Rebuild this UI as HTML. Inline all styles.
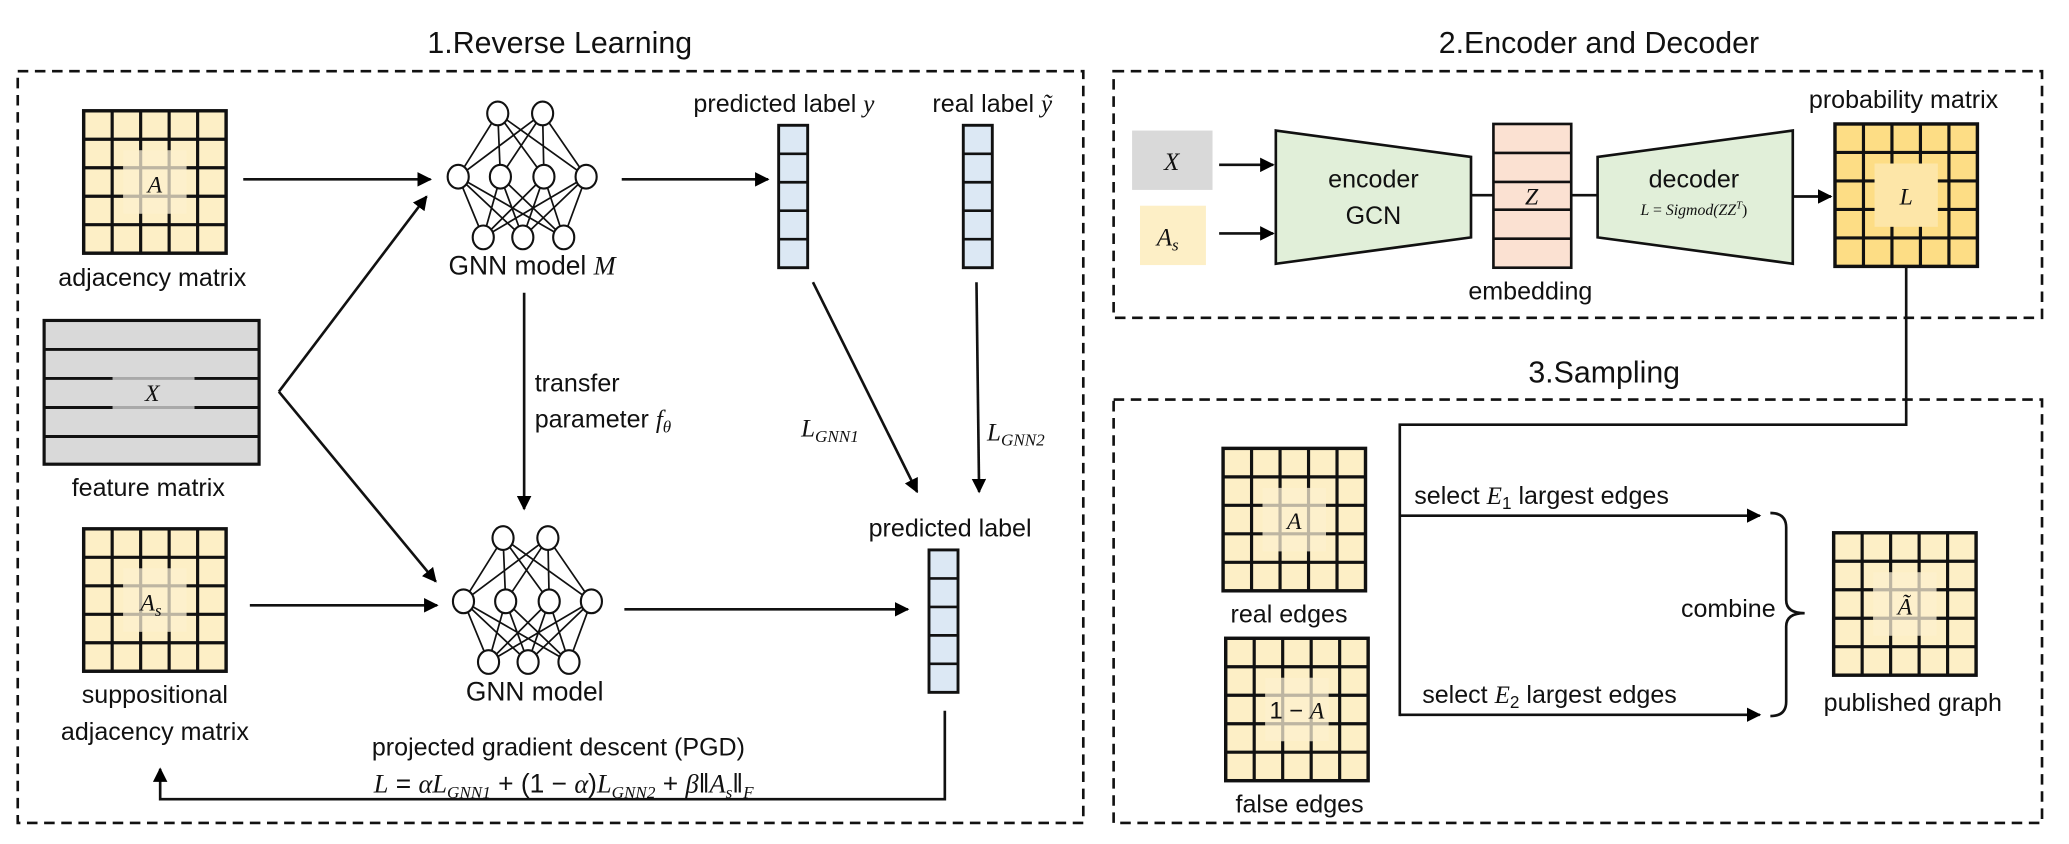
<!DOCTYPE html>
<html><head><meta charset="utf-8"><style>
html,body{margin:0;padding:0;background:#fff}
svg{display:block}
text{font-family:"Liberation Sans","DejaVu Sans",sans-serif;fill:#111}
.m{font-family:"Liberation Serif",serif;font-style:italic}
</style></head><body>
<svg width="2069" height="844" viewBox="0 0 1568 640" xmlns="http://www.w3.org/2000/svg">
<defs>
<marker id="ah" viewBox="0 0 10 10" refX="9" refY="5" markerWidth="5.5" markerHeight="5.5" orient="auto" markerUnits="strokeWidth"><path d="M0,0L10,5L0,10z" fill="#000"/></marker>
<symbol id="mat" viewBox="0 0 108 108" width="108" height="108" overflow="visible">
<rect x="0" y="0" width="108" height="108" fill="#fdefc6"/>
<g stroke="#111" stroke-width="2.4">
<line x1="21.6" y1="0" x2="21.6" y2="108"/><line x1="43.2" y1="0" x2="43.2" y2="108"/><line x1="64.8" y1="0" x2="64.8" y2="108"/><line x1="86.4" y1="0" x2="86.4" y2="108"/>
<line y1="21.6" x1="0" y2="21.6" x2="108"/><line y1="43.2" x1="0" y2="43.2" x2="108"/><line y1="64.8" x1="0" y2="64.8" x2="108"/><line y1="86.4" x1="0" y2="86.4" x2="108"/>
</g>
<rect x="30" y="30" width="48" height="48" fill="#fdf0cc"/>
<g stroke="#bdb5a2" stroke-width="2.4">
<line x1="43.2" y1="30" x2="43.2" y2="78"/><line x1="64.8" y1="30" x2="64.8" y2="78"/>
<line y1="43.2" x1="30" y2="43.2" x2="78"/><line y1="64.8" x1="30" y2="64.8" x2="78"/>
</g>
<rect x="0" y="0" width="108" height="108" fill="none" stroke="#111" stroke-width="2.6"/>
</symbol>
<symbol id="pmat" viewBox="0 0 108 108" width="108" height="108" overflow="visible">
<rect x="0" y="0" width="108" height="108" fill="#fddd85"/>
<g stroke="#111" stroke-width="2.4">
<line x1="21.6" y1="0" x2="21.6" y2="108"/><line x1="43.2" y1="0" x2="43.2" y2="108"/><line x1="64.8" y1="0" x2="64.8" y2="108"/><line x1="86.4" y1="0" x2="86.4" y2="108"/>
<line y1="21.6" x1="0" y2="21.6" x2="108"/><line y1="43.2" x1="0" y2="43.2" x2="108"/><line y1="64.8" x1="0" y2="64.8" x2="108"/><line y1="86.4" x1="0" y2="86.4" x2="108"/>
</g>
<rect x="30" y="30" width="48" height="48" fill="#fde6a8"/>
<rect x="0" y="0" width="108" height="108" fill="none" stroke="#111" stroke-width="2.6"/>
</symbol>
<symbol id="vec" viewBox="0 0 22 108" width="22" height="108" overflow="visible">
<rect x="0" y="0" width="22" height="108" fill="#dce8f4" stroke="#111" stroke-width="2.2"/>
<g stroke="#111" stroke-width="2"><line x1="0" y1="21.6" x2="22" y2="21.6"/><line x1="0" y1="43.2" x2="22" y2="43.2"/><line x1="0" y1="64.8" x2="22" y2="64.8"/><line x1="0" y1="86.4" x2="22" y2="86.4"/></g>
</symbol>
<symbol id="gnn" viewBox="0 0 120 120" width="120" height="120" overflow="visible">
<g stroke="#111" stroke-width="1.3">
<path d="M30,0L0,48M30,0L32,48M30,0L65,48M30,0L97,48M64,0L0,48M64,0L32,48M64,0L65,48M64,0L97,48"/>
<path d="M0,48L19,94M0,48L49,94M0,48L80,94M32,48L19,94M32,48L49,94M32,48L80,94M65,48L19,94M65,48L49,94M65,48L80,94M97,48L19,94M97,48L49,94M97,48L80,94"/>
</g>
<g fill="#fff" stroke="#111" stroke-width="1.6">
<ellipse cx="30" cy="0" rx="8" ry="9"/><ellipse cx="64" cy="0" rx="8" ry="9"/>
<ellipse cx="0" cy="48" rx="8" ry="9"/><ellipse cx="32" cy="48" rx="8" ry="9"/><ellipse cx="65" cy="48" rx="8" ry="9"/><ellipse cx="97" cy="48" rx="8" ry="9"/>
<ellipse cx="19" cy="94" rx="8" ry="9"/><ellipse cx="49" cy="94" rx="8" ry="9"/><ellipse cx="80" cy="94" rx="8" ry="9"/>
</g>
</symbol>
</defs>

<g fill="none" stroke="#111" stroke-width="2" stroke-dasharray="8,5">
<rect x="13" y="54" width="808" height="570"/>
<rect x="844" y="54" width="704" height="187"/>
<rect x="844" y="303" width="704" height="321"/>
</g>
<text x="424" y="40" font-size="23" text-anchor="middle">1.Reverse Learning</text>
<text x="1212" y="40" font-size="23" text-anchor="middle">2.Encoder and Decoder</text>
<text x="1216" y="290" font-size="23" text-anchor="middle">3.Sampling</text>

<use href="#mat" x="63" y="84"/>
<text x="117" y="146" font-size="18" class="m" text-anchor="middle">A</text>
<text x="115" y="217" font-size="19" text-anchor="middle">adjacency matrix</text>

<rect x="33" y="243" width="163" height="109" fill="#d9d9d9" stroke="#111" stroke-width="2.4"/>
<g stroke="#111" stroke-width="2.2"><line x1="33" y1="265" x2="196" y2="265"/><line x1="33" y1="287" x2="85" y2="287"/><line x1="147" y1="287" x2="196" y2="287"/><line x1="33" y1="309" x2="85" y2="309"/><line x1="147" y1="309" x2="196" y2="309"/><line x1="33" y1="331" x2="196" y2="331"/></g>
<g stroke="#a9a9a9" stroke-width="2.2"><line x1="85" y1="287" x2="147" y2="287"/><line x1="85" y1="309" x2="147" y2="309"/></g>
<text x="115" y="304" font-size="18" class="m" text-anchor="middle">X</text>
<text x="112" y="376" font-size="19" text-anchor="middle">feature matrix</text>

<use href="#mat" x="63" y="401"/>
<text x="114" y="463" font-size="18" class="m" text-anchor="middle">A<tspan font-size="13" dy="4">s</tspan></text>
<text x="117" y="533" font-size="19" text-anchor="middle">suppositional</text>
<text x="117" y="561" font-size="19" text-anchor="middle">adjacency matrix</text>

<g stroke="#111" stroke-width="2" fill="none" marker-end="url(#ah)">
<line x1="184" y1="136" x2="326" y2="136"/>
<line x1="211" y1="297" x2="323" y2="149"/>
<line x1="211" y1="297" x2="330" y2="441"/>
<line x1="189" y1="459" x2="331" y2="459"/>
<line x1="397" y1="222" x2="397" y2="386"/>
<line x1="471" y1="136" x2="582" y2="136"/>
<line x1="616" y1="214" x2="695" y2="373"/>
<line x1="740" y1="214" x2="742" y2="373"/>
<line x1="473" y1="462" x2="688" y2="462"/>
<polyline points="716,539 716,606 121,606 121,583"/>
</g>

<use href="#gnn" x="347" y="86"/>
<text x="403" y="208" font-size="20" text-anchor="middle">GNN model <tspan class="m">M</tspan></text>
<use href="#gnn" x="351" y="408"/>
<text x="405" y="531" font-size="20" text-anchor="middle">GNN model</text>

<text x="405" y="297" font-size="19">transfer</text>
<text x="405" y="324" font-size="19">parameter <tspan class="m">f</tspan><tspan class="m" font-size="13" dy="4">θ</tspan></text>

<use href="#vec" x="590" y="95"/>
<use href="#vec" x="730" y="95"/>
<use href="#vec" x="704" y="417"/>
<text x="594" y="85" font-size="19" text-anchor="middle">predicted label <tspan class="m">y</tspan></text>
<text x="752" y="85" font-size="19" text-anchor="middle">real label <tspan class="m">ỹ</tspan></text>
<text x="720" y="407" font-size="19" text-anchor="middle">predicted label</text>
<text x="607" y="331" font-size="19" class="m">L<tspan font-size="13" dy="4">GNN1</tspan></text>
<text x="748" y="334" font-size="19" class="m">L<tspan font-size="13" dy="4">GNN2</tspan></text>

<text x="423" y="573" font-size="19" text-anchor="middle">projected gradient descent (PGD)</text>
<text x="427" y="601" font-size="20" text-anchor="middle" font-family="Liberation Serif, serif"><tspan class="m">L</tspan> = <tspan class="m">αL</tspan><tspan class="m" font-size="13" dy="4">GNN1</tspan><tspan dy="-4"> + (1 − </tspan><tspan class="m">α</tspan>)<tspan class="m">L</tspan><tspan class="m" font-size="13" dy="4">GNN2</tspan><tspan dy="-4"> + </tspan><tspan class="m">β</tspan>‖<tspan class="m">A</tspan><tspan class="m" font-size="13" dy="4">s</tspan><tspan dy="-4">‖</tspan><tspan class="m" font-size="13" dy="4">F</tspan></text>

<rect x="858" y="99" width="61" height="45" fill="#d9d9d9"/>
<text x="888" y="129" font-size="19" class="m" text-anchor="middle">X</text>
<rect x="864" y="156" width="50" height="45" fill="#fdefc6"/>
<text x="885" y="186" font-size="19" class="m" text-anchor="middle">A<tspan font-size="13" dy="4">s</tspan></text>
<g stroke="#111" stroke-width="2" marker-end="url(#ah)">
<line x1="924" y1="125" x2="965" y2="125"/>
<line x1="924" y1="177" x2="965" y2="177"/>
<line x1="1359" y1="149" x2="1388" y2="149"/>
</g>
<polygon points="967,99 1115,119 1115,180 967,200" fill="#e1efd9" stroke="#111" stroke-width="2"/>
<text x="1041" y="142" font-size="19" text-anchor="middle">encoder</text>
<text x="1041" y="170" font-size="19" text-anchor="middle">GCN</text>
<line x1="1115" y1="148" x2="1132" y2="148" stroke="#111" stroke-width="2"/>
<line x1="1191" y1="148" x2="1211" y2="148" stroke="#111" stroke-width="2"/>
<rect x="1132" y="94" width="59" height="109" fill="#fbe1d2" stroke="#111" stroke-width="2"/>
<g stroke="#111" stroke-width="2"><line x1="1132" y1="116" x2="1191" y2="116"/><line x1="1132" y1="138" x2="1191" y2="138"/><line x1="1132" y1="159" x2="1191" y2="159"/><line x1="1132" y1="181" x2="1191" y2="181"/></g>
<text x="1161" y="155" font-size="18" class="m" text-anchor="middle">Z</text>
<text x="1160" y="227" font-size="19" text-anchor="middle">embedding</text>
<polygon points="1211,119 1359,99 1359,200 1211,180" fill="#e1efd9" stroke="#111" stroke-width="2"/>
<text x="1284" y="142" font-size="19" text-anchor="middle">decoder</text>
<text x="1284" y="163" font-size="12" text-anchor="middle" class="m">L <tspan font-style="normal">=</tspan> Sigmod(ZZ<tspan font-size="8" dy="-5">T</tspan><tspan dy="5" font-style="normal">)</tspan></text>
<use href="#pmat" x="1391" y="94"/>
<text x="1445" y="155" font-size="18" class="m" text-anchor="middle">L</text>
<text x="1443" y="82" font-size="19" text-anchor="middle">probability matrix</text>

<polyline points="1445,201 1445,322 1061,322 1061,543" fill="none" stroke="#111" stroke-width="2"/>
<g stroke="#111" stroke-width="2" marker-end="url(#ah)">
<line x1="1061" y1="391" x2="1334" y2="391"/>
<line x1="1061" y1="542" x2="1334" y2="542"/>
</g>
<text x="1072" y="382" font-size="19">select <tspan class="m">E</tspan><tspan font-size="13" dy="4">1</tspan><tspan dy="-4"> largest edges</tspan></text>
<text x="1078" y="533" font-size="19">select <tspan class="m">E</tspan><tspan font-size="13" dy="4">2</tspan><tspan dy="-4"> largest edges</tspan></text>
<path d="M1342,389 Q1354,389 1354,400 L1354,455 Q1354,465 1368,465 Q1354,465 1354,475 L1354,532 Q1354,543 1342,543" fill="none" stroke="#111" stroke-width="2"/>
<text x="1346" y="468" font-size="19" text-anchor="end">combine</text>
<use href="#mat" x="927" y="340"/>
<text x="981" y="401" font-size="18" class="m" text-anchor="middle">A</text>
<text x="977" y="472" font-size="19" text-anchor="middle">real edges</text>
<use href="#mat" x="929" y="484"/>
<text x="983" y="545" font-size="18" text-anchor="middle" font-family="Liberation Serif, serif">1 − <tspan class="m">A</tspan></text>
<text x="985" y="616" font-size="19" text-anchor="middle">false edges</text>
<use href="#mat" x="1390" y="404"/>
<text x="1444" y="466" font-size="18" class="m" text-anchor="middle">Ã</text>
<text x="1450" y="539" font-size="19" text-anchor="middle">published graph</text>
</svg>
</body></html>
